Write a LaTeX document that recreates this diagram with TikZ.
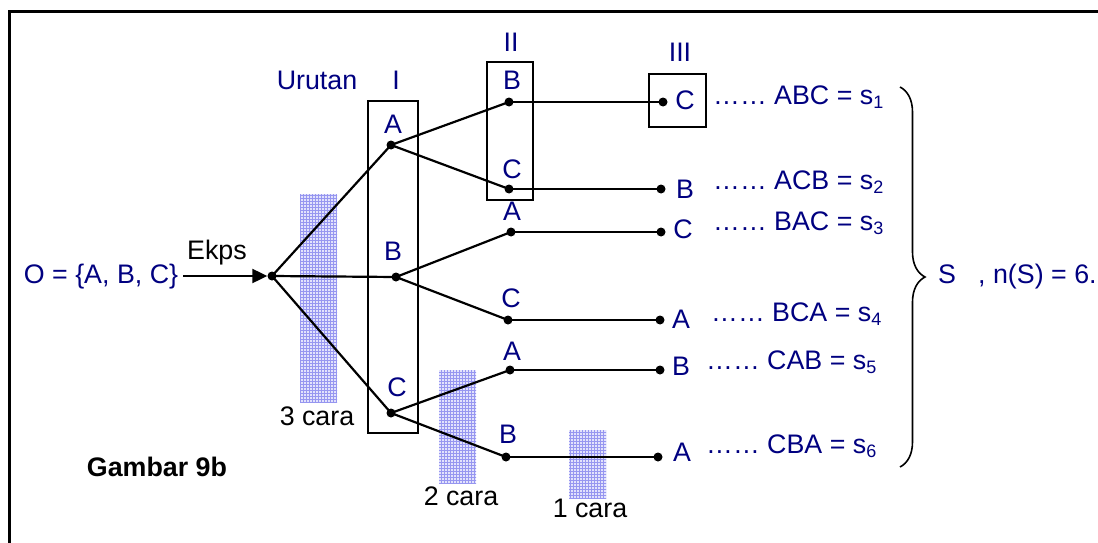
\documentclass[tikz,border=0pt]{standalone}
\usepackage{fontspec}
\setmainfont{Liberation Sans}
\usetikzlibrary{arrows.meta,patterns,decorations.pathreplacing}
\definecolor{navy}{RGB}{0,0,128}
\definecolor{hatch}{RGB}{150,150,240}
\definecolor{hatchbg}{RGB}{226,226,252}
\newcommand{\subidx}[1]{\raisebox{-4.5pt}{\fontsize{18}{20}\selectfont #1}}
\begin{document}
\begin{tikzpicture}[x=1pt,y=-1pt,
  every node/.style={font=\fontsize{26.8}{32}\selectfont, inner sep=0},
  lbl/.style={text=navy, anchor=base},
  blk/.style={text=black, anchor=base},
  res/.style={text=navy, anchor=base west},
  pt/.style={circle, fill=black, inner sep=0, minimum size=9},
  conn/.style={line width=2.2},
  frame/.style={draw, line width=2},
  shade/.style={preaction={fill=hatchbg}, pattern=grid, pattern color=hatch},
]
\useasboundingbox (0,0) rectangle (1098,543);
% outer frame (top and left only)
\coordinate (f1) at (9.5,543);
\coordinate (f2) at (9.5,11.5);
\coordinate (f3) at (1098,11.5);
\draw[line width=2.2] (f1) -- (f2) -- (f3);

% shaded bands
\path[shade] (300,194) rectangle (337,402);
\path[shade] (439,370) rectangle (476,483);
\path[shade] (569,430) rectangle (606,498);

% boxes
\node[frame, minimum width=50, minimum height=332] (boxI) at (393,267) {};
\node[frame, minimum width=46, minimum height=138] (boxII) at (510,131) {};
\node[frame, minimum width=57, minimum height=53] (boxIII) at (677.5,100.5) {};

% headings
\node[lbl] (urutan) at (317,89) {Urutan};
\node[lbl] (hI) at (396,89) {I};
\node[lbl] (hII) at (511,52) {II};
\node[lbl] (hIII) at (680,62) {III};

% start
\node[lbl] (O) at (101,283.5) {O = \{A, B, C\}};
\coordinate (start) at (183,276);
\node[pt] (r) at (272,276) {};
\node[blk] (ekps) at (217,259) {Ekps};
\draw[conn,-{Triangle[length=15,width=14]}] (start) -- (r);

% level 1
\node[pt] (A1) at (391,145) {};
\node[pt] (B1) at (396,277) {};
\node[pt] (C1) at (391,413) {};
\node[lbl] (lA1) at (393,133) {A};
\node[lbl] (lB1) at (393,260) {B};
\node[lbl] (lC1) at (397,396) {C};

% level 2
\node[pt] (AB) at (509,102) {};
\node[pt] (AC) at (509,189) {};
\node[pt] (BA) at (511,232) {};
\node[pt] (BC) at (508,320) {};
\node[pt] (CA) at (510,370) {};
\node[pt] (CB) at (506,457) {};
\node[lbl] (lAB) at (512,89) {B};
\node[lbl] (lAC) at (512,178) {C};
\node[lbl] (lBA) at (512,220) {A};
\node[lbl] (lBC) at (511,307) {C};
\node[lbl] (lCA) at (512,360) {A};
\node[lbl] (lCB) at (508,443) {B};

% level 3
\node[pt] (ABC) at (663,102) {};
\node[pt] (ACB) at (661,189) {};
\node[pt] (BAC) at (661,232) {};
\node[pt] (BCA) at (660,320) {};
\node[pt] (CAB) at (660,370) {};
\node[pt] (CBA) at (658,457) {};
\node[lbl] (lABC) at (685,110) {C};
\node[lbl] (lACB) at (685,198) {B};
\node[lbl] (lBAC) at (683,238) {C};
\node[lbl] (lBCA) at (681,328) {A};
\node[lbl] (lCAB) at (681,375) {B};
\node[lbl] (lCBA) at (682,461) {A};

% connectors
\draw[conn] (r.center) -- (A1.center);
\draw[conn] (r.center) -- (B1.center);
\draw[conn] (r.center) -- (C1.center);
\draw[conn] (A1.center) -- (AB.center);
\draw[conn] (A1.center) -- (AC.center);
\draw[conn] (B1.center) -- (BA.center);
\draw[conn] (B1.center) -- (BC.center);
\draw[conn] (C1.center) -- (CA.center);
\draw[conn] (C1.center) -- (CB.center);
\draw[conn] (AB.center) -- (ABC.center);
\draw[conn] (AC.center) -- (ACB.center);
\draw[conn] (BA.center) -- (BAC.center);
\draw[conn] (BC.center) -- (BCA.center);
\draw[conn] (CA.center) -- (CAB.center);
\draw[conn] (CB.center) -- (CBA.center);

% results
\node[res] (s1) at (713,104) {…… ABC = s\subidx{1}};
\node[res] (s2) at (713,189) {…… ACB = s\subidx{2}};
\node[res] (s3) at (713,230) {…… BAC = s\subidx{3}};
\node[res] (s4) at (711,321) {…… BCA = s\subidx{4}};
\node[res] (s5) at (706,369) {…… CAB = s\subidx{5}};
\node[res] (s6) at (706,453) {…… CBA = s\subidx{6}};

% brace
\coordinate (bt) at (900,87);
\coordinate (bb) at (900,467);
\draw[line width=1.6, decorate, decoration={brace, amplitude=25}] (bt) -- (bb);
\node[lbl] (S) at (947,283) {S};
\node[res] (nS) at (978,283) {, n(S) = 6.};

% counts
\node[blk] (c3) at (317,425) {3 cara};
\node[blk] (c2) at (461,505) {2 cara};
\node[blk] (c1) at (590,517) {1 cara};
\node[blk, font=\fontsize{26.8}{32}\selectfont\bfseries] (fig) at (157,476) {Gambar 9b};
\end{tikzpicture}
\end{document}
